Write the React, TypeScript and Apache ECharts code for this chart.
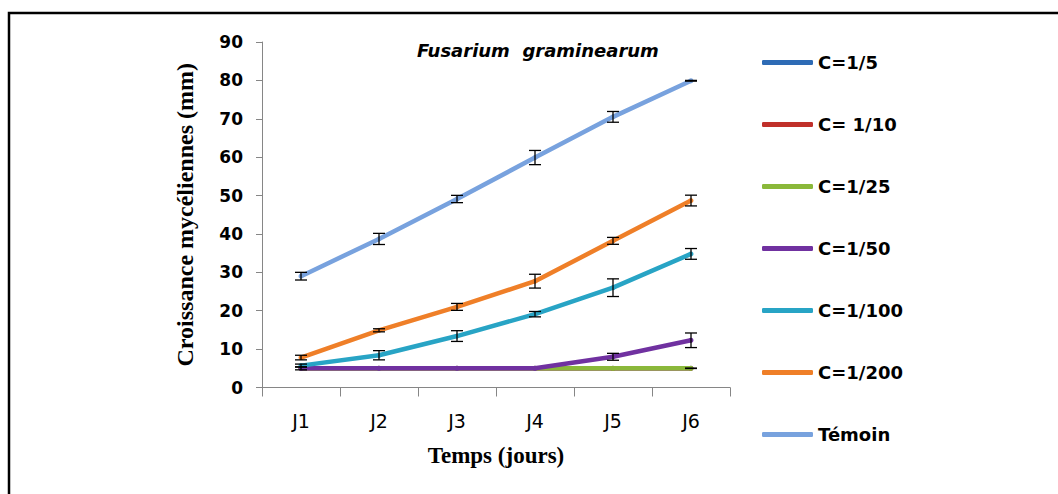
import React, { useEffect, useRef } from "react";
import * as echarts from "echarts";

const categories = ["J1", "J2", "J3", "J4", "J5", "J6"];
const seriesNames = ["C=1/5", "C= 1/10", "C=1/25", "C=1/50", "C=1/100", "C=1/200", "Témoin"];
const seriesColors = ["#2E6BB5", "#C0302A", "#8AB83A", "#7031A0", "#28A4C5", "#EF7F28", "#78A2DE"];

const c5 = [5, 5, 5, 5, 5, 5];
const c10 = [5, 5, 5, 5, 5, 5];
const c25 = [5, 5, 5, 5, 5, 5];
const c50 = [5, 5, 5, 5, 8, 12.3];
const c100 = [5.7, 8.4, 13.4, 19.1, 26, 34.8];
const c200 = [7.8, 14.9, 21, 27.7, 38.2, 48.7];
const temoin = [29, 38.7, 49.1, 59.9, 70.5, 79.9];

// standard deviations (null = no error bar drawn)
const c5Err = [null, null, null, null, null, null];
const c10Err = [null, null, null, null, null, null];
const c25Err = [null, null, null, null, null, 0.05];
const c50Err = [0.4, null, null, null, 0.9, 1.9];
const c100Err = [0.4, 1.2, 1.4, 0.7, 2.3, 1.4];
const c200Err = [0.6, 0.4, 0.9, 1.8, 0.9, 1.4];
const temoinErr = [1, 1.45, 0.95, 1.85, 1.4, 0.1];

const yTicks = [0, 10, 20, 30, 40, 50, 60, 70, 80, 90];

const allValues = [c5, c10, c25, c50, c100, c200, temoin];
const allErrors = [c5Err, c10Err, c25Err, c50Err, c100Err, c200Err, temoinErr];

export default function App() {
  const ref = useRef<HTMLDivElement>(null);
  useEffect(() => {
    if (!ref.current) return;
    const chart = echarts.init(ref.current, null, { renderer: "svg" });

    const lineSeries = seriesNames.map((name, i) => ({
      name,
      type: "line",
      data: allValues[i],
      symbol: "circle",
      symbolSize: 5,
      lineStyle: { width: 4.5, color: seriesColors[i] },
      itemStyle: { color: seriesColors[i] },
      z: 2 + i,
    }));

    const errSeries = seriesNames.map((name, i) => {
      const data: any[] = [];
      allErrors[i].forEach((e, k) => {
        if (e !== null && e !== undefined) {
          data.push([k, allValues[i][k] - e, allValues[i][k] + e]);
        }
      });
      return {
        name: "err " + name,
        type: "custom",
        z: 20,
        data,
        renderItem: (params: any, api: any) => {
          const xi = api.value(0);
          const pLo = api.coord([xi, api.value(1)]);
          const pHi = api.coord([xi, api.value(2)]);
          const w = 6;
          const style = { stroke: "#000", lineWidth: 1.3 };
          return {
            type: "group",
            children: [
              { type: "line", shape: { x1: pLo[0], y1: pLo[1], x2: pHi[0], y2: pHi[1] }, style },
              { type: "line", shape: { x1: pLo[0] - w, y1: pLo[1], x2: pLo[0] + w, y2: pLo[1] }, style },
              { type: "line", shape: { x1: pHi[0] - w, y1: pHi[1], x2: pHi[0] + w, y2: pHi[1] }, style },
            ],
          };
        },
      };
    });

    chart.setOption({
      animation: false,
      backgroundColor: "#ffffff",
      grid: { left: 262, right: 328, top: 42, bottom: 106.5, outerBoundsMode: "none" },
      graphic: [
        {
          type: "rect",
          shape: { x: 9, y: 13, width: 1200, height: 700 },
          style: { fill: "none", stroke: "#000", lineWidth: 2.5 },
          z: 100,
        },
        {
          type: "text",
          x: 417,
          y: 50,
          style: {
            text: "Fusarium  graminearum",
            font: "italic bold 18px 'DejaVu Sans'",
            fill: "#000",
            textAlign: "left",
            textVerticalAlign: "middle",
          },
        },
      ],
      legend: {
        orient: "vertical",
        left: 762,
        top: 52.5,
        padding: 0,
        icon: "roundRect",
        itemWidth: 51,
        itemHeight: 5,
        itemGap: 42,
        data: seriesNames,
        textStyle: {
          fontFamily: "DejaVu Sans",
          fontWeight: "bold",
          fontSize: 18,
          lineHeight: 20,
          color: "#000",
        },
      },
      xAxis: {
        type: "category",
        data: categories,
        boundaryGap: true,
        axisLine: { lineStyle: { color: "#868686", width: 1 } },
        axisTick: { show: true, length: 9, lineStyle: { color: "#868686" } },
        axisLabel: {
          margin: 24,
          fontFamily: "DejaVu Sans",
          fontSize: 19,
          color: "#000",
        },
        name: "Temps (jours)",
        nameLocation: "middle",
        nameGap: 56,
        nameTextStyle: {
          fontFamily: "'Liberation Serif'",
          fontWeight: "bold",
          fontSize: 23,
          color: "#000",
        },
      },
      yAxis: {
        type: "value",
        min: 0,
        max: 90,
        interval: 10,
        splitLine: { show: false },
        axisLine: { show: true, lineStyle: { color: "#868686", width: 1 } },
        axisTick: { show: true, length: 6, lineStyle: { color: "#868686" } },
        axisLabel: {
          margin: 19,
          fontFamily: "DejaVu Sans",
          fontWeight: "bold",
          fontSize: 17,
          color: "#000",
          formatter: (v: number) => (yTicks.includes(v) ? String(v) : ""),
        },
        name: "Croissance mycéliennes (mm)",
        nameLocation: "middle",
        nameGap: 65,
        nameTextStyle: {
          fontFamily: "'Liberation Serif'",
          fontWeight: "bold",
          fontSize: 24,
          color: "#000",
        },
      },
      series: [...lineSeries, ...errSeries],
    });

    return () => chart.dispose();
  }, []);

  return (
    <div
      ref={ref}
      style={{ position: "fixed", left: 0, top: 0, width: 1058, height: 494, background: "#fff" }}
    />
  );
}
